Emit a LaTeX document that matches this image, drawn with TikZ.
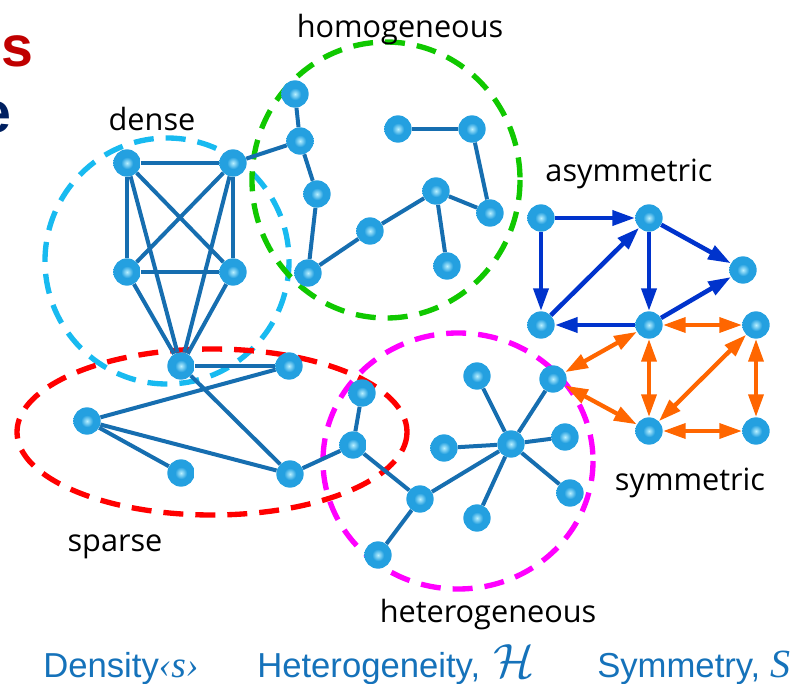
\documentclass[tikz,border=0pt]{standalone}
\usepackage{fontspec}
\usepackage{amsmath,amssymb}
\usetikzlibrary{arrows.meta}
\setmainfont{Liberation Sans}
\newfontfamily\handfont{Open Sans}
\newfontfamily\quotefont{Liberation Serif}

\definecolor{ballhi}{RGB}{185,240,255}
\definecolor{ballmid}{RGB}{36,160,224}
\definecolor{balllo}{RGB}{6,66,120}
\definecolor{edgeblue}{RGB}{22,110,176}
\definecolor{arcblue}{RGB}{0,51,204}
\definecolor{symorange}{RGB}{255,102,0}
\definecolor{ringcyan}{RGB}{24,186,240}
\definecolor{ringgreen}{RGB}{16,200,0}
\definecolor{ringred}{RGB}{255,0,0}
\definecolor{ringmagenta}{RGB}{255,0,255}
\definecolor{captionblue}{RGB}{21,114,186}
\definecolor{titlered}{RGB}{192,0,0}
\definecolor{titlenavy}{RGB}{0,32,96}

\pgfdeclareradialshading{sphere}{\pgfpoint{0bp}{0bp}}{color(0bp)=(ballhi); color(11bp)=(ballmid); color(27bp)=(ballmid); color(40bp)=(ballmid!45!balllo); color(50bp)=(balllo)}

\begin{document}
\begin{tikzpicture}%
        [x=0.75pt, y=-0.75pt,
        vertex/.style={circle, minimum size=20.5pt, inner sep=0pt, shading=sphere},
        edge/.style={draw=edgeblue, line width=3pt},
        arc/.style={draw=arcblue, line width=3.4pt, -{Triangle[length=17pt,width=11pt]}},
        sym/.style={draw=symorange, line width=3.2pt,
                    {Triangle[length=17pt,width=11pt]}-{Triangle[length=17pt,width=11pt]}},
        ring/.style={line width=4pt, dash pattern=on 15pt off 9pt},
        tag/.style={font=\handfont\fontsize{23}{27}\selectfont, anchor=base, inner sep=0pt},
        caption/.style={font=\fontsize{26}{30}\selectfont, text=captionblue, anchor=base west, inner sep=0pt}]
    \useasboundingbox (0,0) rectangle (810,684);
    \clip (0,0) rectangle (810,684);
    %
    %% Clipped title letters
    \node[anchor=base east, inner sep=0pt, text=titlered,
          font=\bfseries\fontsize{43}{50}\selectfont] (titleS) at (34,67) {s};
    \node[anchor=base east, inner sep=0pt, text=titlenavy,
          font=\bfseries\fontsize{43}{50}\selectfont] (titleE) at (12,133) {e};
    %
    %% Drawing the groups
    \draw[ring, ringcyan] (167,261) circle [x radius=122, y radius=123];
    \draw[ring, ringgreen] (386,180) circle [x radius=134, y radius=138];
    \draw[ring, ringred] (212,432) circle [x radius=195, y radius=83];
    \draw[ring, ringmagenta] (458,461) circle [x radius=135, y radius=128];
    %
    %% Drawing the vertices
    %% dense
    \node[vertex] (d1) at (127,163) {};
    \node[vertex] (d2) at (233,163) {};
    \node[vertex] (d3) at (127,272) {};
    \node[vertex] (d4) at (233,272) {};
    \node[vertex] (hub) at (181,366) {};
    %% homogeneous
    \node[vertex] (g1) at (295,94) {};
    \node[vertex] (g2) at (300,141) {};
    \node[vertex] (g3) at (317,194) {};
    \node[vertex] (g4) at (308,273) {};
    \node[vertex] (g5) at (370,231) {};
    \node[vertex] (g6) at (436,191) {};
    \node[vertex] (g7) at (447,266) {};
    \node[vertex] (g8) at (490,213) {};
    \node[vertex] (g9) at (472,129) {};
    \node[vertex] (g10) at (398,129) {};
    %% sparse
    \node[vertex] (s1) at (289,366) {};
    \node[vertex] (s2) at (87,421) {};
    \node[vertex] (s3) at (181,473) {};
    \node[vertex] (s4) at (290,474) {};
    %% heterogeneous
    \node[vertex] (x0) at (362,393) {};
    \node[vertex] (x1) at (353,445) {};
    \node[vertex] (x2) at (420,499) {};
    \node[vertex] (x3) at (378,555) {};
    \node[vertex] (x4) at (511,444) {};
    \node[vertex] (x5) at (444,448) {};
    \node[vertex] (x6) at (477,376) {};
    \node[vertex] (x7) at (553,379) {};
    \node[vertex] (x8) at (565,437) {};
    \node[vertex] (x9) at (570,493) {};
    \node[vertex] (x10) at (477,518) {};
    %% asymmetric / symmetric
    \node[vertex] (a1) at (541,218) {};
    \node[vertex] (a2) at (649,218) {};
    \node[vertex] (a3) at (743,270) {};
    \node[vertex] (a4) at (541,325) {};
    \node[vertex] (a5) at (649,325) {};
    \node[vertex] (a6) at (756,325) {};
    \node[vertex] (a8) at (649,431) {};
    \node[vertex] (a9) at (756,431) {};
    %
    %% Drawing the edges
    \foreach \u/\v in {d1/d2,d1/d3,d2/d4,d3/d4,d1/d4,d2/d3,d1/hub,d2/hub,d3/hub,d4/hub,
                       d2/g2,g1/g2,g2/g3,g3/g4,g4/g5,g5/g6,g6/g7,g6/g8,g8/g9,g9/g10,
                       hub/s1,s1/s2,s2/s3,s2/s4,hub/s4,s4/x1,
                       x0/x1,x1/x2,x2/x3,x2/x4,x4/x5,x4/x6,x4/x7,x4/x8,x4/x9,x4/x10}
        \draw[edge] (\u) -- (\v);
    %
    %% Directed arcs
    \foreach \u/\v in {a1/a2,a1/a4,a4/a2,a2/a3,a2/a5,a5/a3,a5/a4}
        \draw[arc] (\u) -- (\v);
    %% Symmetric arcs
    \foreach \u/\v in {a5/a6,a5/x7,a5/a8,a6/a8,a6/a9,x7/a8,a8/a9}
        \draw[sym] (\u) -- (\v);
    %
    %% Labels
    \node[tag] (ldense) at (152,131) {dense};
    \node[tag] (lhomo) at (400,38) {homogeneous};
    \node[tag] (lasym) at (629,182) {asymmetric};
    \node[tag] (lsym) at (690,490) {symmetric};
    \node[tag] (lsparse) at (115,551) {sparse};
    \node[tag] (lhetero) at (488,622) {heterogeneous};
    %
    %% Measures
    \node[caption] (cdens) at (43,677) {Density{\quotefont\itshape\fontsize{28}{30}\selectfont ‹s›}};
    \node[caption] (chet) at (257,677) {Heterogeneity,\hspace{10pt}\scalebox{1.45}{$\mathcal{H}$}};
    \node[caption] (csym) at (597,677) {Symmetry,\hspace{8pt}{\quotefont\itshape\fontsize{30}{32}\selectfont S}};
\end{tikzpicture}
\end{document}
